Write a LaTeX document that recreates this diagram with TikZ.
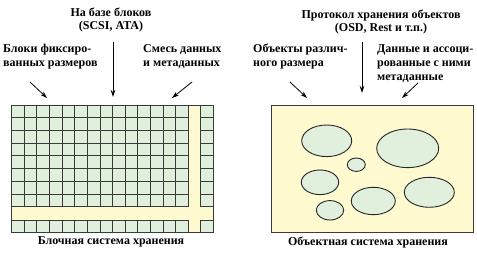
\documentclass[tikz,border=0pt]{standalone}
\usepackage{fontspec}
\setmainfont{Liberation Serif}
\usepackage{xcolor}
\usetikzlibrary{arrows.meta,positioning}
\definecolor{cellgreen}{HTML}{E1EFDD}
\definecolor{stripeyellow}{HTML}{FFFAD0}
\definecolor{edgegray}{HTML}{3A3A3A}

\begin{document}
\begin{tikzpicture}[
  x=1pt, y=-1pt,
  font=\fontsize{12}{13.8}\selectfont\bfseries,
  label/.style={inner sep=0pt, align=left, anchor=west},
  title/.style={inner sep=0pt, align=center},
  cell/.style={fill=cellgreen, draw=edgegray, line width=0.9pt},
  blob/.style={fill=cellgreen, draw=black!85, line width=0.9pt},
  arrow/.style={-{Stealth[length=7pt,width=4.5pt]}, line width=0.8pt}
]
\useasboundingbox (0,0) rectangle (477,257);

% Блочная система
\fill[stripeyellow] (11.7,105) rectangle (213.3,232.7);
\foreach \i in {0,...,13} {
  \foreach \j in {0,...,7}
    \draw[cell] (11.7+12.61*\i,105+12.71*\j) rectangle ++(12.61,12.71);
  \draw[cell] (11.7+12.61*\i,220) rectangle ++(12.61,12.7);
}
\foreach \j in {0,...,7}
  \draw[cell] (200,105+12.71*\j) rectangle ++(13.3,12.71);
\draw[cell] (200,220) rectangle (213.3,232.7);
\draw[draw=edgegray, line width=0.9pt] (11.7,105) rectangle (213.3,232.7);

% Объектная система
\draw[fill=stripeyellow, draw=edgegray, line width=1pt] (271.7,105) rectangle (473.3,232.7);
\draw[blob] (326.7,140.8) ellipse [x radius=25, y radius=15.8];
\draw[blob] (407.7,148.3) ellipse [x radius=31, y radius=19.3];
\draw[blob] (356.3,164.7) ellipse [x radius=9, y radius=6.7];
\draw[blob] (320,182.3) ellipse [x radius=18.7, y radius=12.3];
\draw[blob] (429.3,192.3) ellipse [x radius=25, y radius=15];
\draw[blob] (373.3,201) ellipse [x radius=22, y radius=13.7];
\draw[blob] (330,210.3) ellipse [x radius=13.7, y radius=9.7];

% Подписи слева
\node[title] (blkTop) at (111,20) {На базе блоков\\(SCSI, ATA)};
\node[label] (blkFix) at (3,56.5) {Блоки фиксиро-\\ванных размеров};
\node[label] (blkMix) at (143,56.5) {Смесь данных\\и метаданных};
\node[title] (blkCap) at (111,242) {Блочная система хранения};

% Подписи справа
\node[title] (objTop) at (381,22) {Протокол хранения объектов\\(OSD, Rest и т.п.)};
\node[label] (objSize) at (253,56.5) {Объекты различ-\\ного размера};
\node[label] (objData) at (377,63.5) {Данные и ассоци-\\рованные с ними\\метаданные};
\node[title] (objCap) at (368,242) {Объектная система хранения};

% Стрелки
\coordinate (bA1) at (30,82);   \coordinate (bB1) at (47,98);
\coordinate (bA2) at (113,42);  \coordinate (bB2) at (113,97);
\coordinate (bA3) at (192,82);  \coordinate (bB3) at (172,98);
\coordinate (oA1) at (290,82);  \coordinate (oB1) at (307,98);
\coordinate (oA2) at (362,42);  \coordinate (oB2) at (362,93);
\coordinate (oA3) at (418,83);  \coordinate (oB3) at (402,98);
\draw[arrow] (bA1) -- (bB1);
\draw[arrow] (bA2) -- (bB2);
\draw[arrow] (bA3) -- (bB3);
\draw[arrow] (oA1) -- (oB1);
\draw[arrow] (oA2) -- (oB2);
\draw[arrow] (oA3) -- (oB3);
\end{tikzpicture}
\end{document}
